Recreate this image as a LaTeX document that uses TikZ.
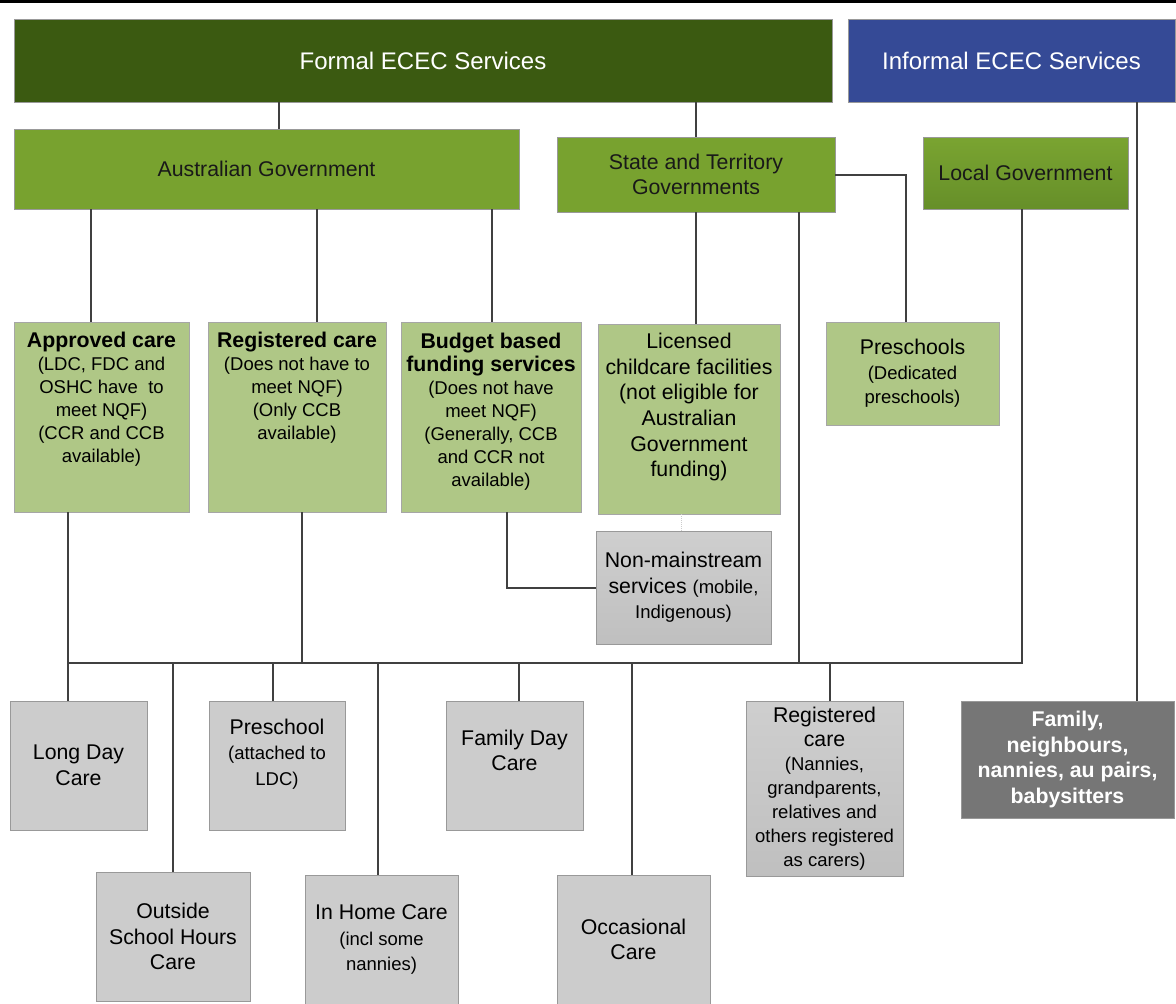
\documentclass[tikz,border=0pt]{standalone}
\usepackage{fontspec}
\setmainfont{Liberation Sans}
\usepackage{tikz}
\definecolor{formalgreen}{HTML}{3B5A11}
\definecolor{informalblue}{HTML}{354A96}
\definecolor{govgreen}{HTML}{78A22F}
\definecolor{localtop}{HTML}{7AA431}
\definecolor{localbottom}{HTML}{668F29}
\definecolor{palegreen}{HTML}{AFC786}
\definecolor{caregrey}{HTML}{CCCCCC}
\definecolor{familygrey}{HTML}{767676}
\definecolor{linkgrey}{HTML}{404040}
\newcommand{\lifttxt}[1]{\rule[-#1pt]{0pt}{#1pt}}
\newcommand{\bigtxt}{\fontsize{24}{29}\selectfont}
\newcommand{\midtxt}{\fontsize{21.3}{25.5}\selectfont}
\newcommand{\smalltxt}{\fontsize{18.5}{23}\selectfont}
\newcommand{\titletxt}[1]{{\bfseries\fontsize{21.3}{23}\selectfont #1}}
\tikzset{
	every node/.style={shape=rectangle,anchor=north west,outer sep=0pt,inner sep=2pt,align=center,line width=0.8pt,draw=black!40,font=\midtxt},
	box-size/.style 2 args={minimum width=#1pt,minimum height=#2pt},
	formal-box/.style={fill=formalgreen,text=white,font=\bigtxt},
	informal-box/.style={fill=informalblue,text=white,font=\bigtxt},
	gov-box/.style={fill=govgreen,text=black!90},
	local-box/.style={top color=localtop,bottom color=localbottom,text=black!90},
	pale-box/.style={fill=palegreen,draw=black!35},
	grey-box/.style={fill=caregrey,draw=black!40},
	shade-box/.style={top color=caregrey!95!white,bottom color=black!25,draw=black!40},
	family-box/.style={fill=familygrey,text=white,font=\bfseries\midtxt},
}
\tikzstyle{link} = [line width=2pt,draw=linkgrey]

\begin{document}
\begin{tikzpicture}[x=1pt,y=-1pt]
\useasboundingbox (0,0) rectangle (1176,1004);
\draw[line width=3pt] (0,1.5) -- (1176,1.5);

% top level
\node[formal-box,box-size={818}{83}] (formal) at (14,19) {Formal ECEC Services};
\node[informal-box,box-size={327}{83}] (informal) at (848,19) {Informal ECEC Services};

% governments
\node[gov-box,box-size={505}{80}] (ausgov) at (14,129) {Australian Government};
\node[gov-box,box-size={278}{75}] (stategov) at (557,137) {State and Territory\\Governments};
\node[local-box,box-size={205}{72}] (localgov) at (923,137) {Local Government};

% funding types
\node[pale-box,box-size={175}{190},font=\smalltxt] (approved) at (14,322) {\titletxt{Approved care}\\(LDC, FDC and\\OSHC have~ to\\meet NQF)\\(CCR and CCB\\available)\lifttxt{39}};
\node[pale-box,box-size={178}{190},font=\smalltxt] (registered) at (208,322) {\titletxt{Registered care}\\(Does not have to\\meet NQF)\\(Only CCB\\available)\lifttxt{62}};
\node[pale-box,box-size={180}{190},font=\smalltxt] (budget) at (401,322) {\titletxt{Budget based}\\\titletxt{funding services}\\(Does not have\\meet NQF)\\(Generally, CCB\\and CCR not\\available)\lifttxt{15}};
\node[pale-box,box-size={182}{190},font=\fontsize{21.3}{25.7}\selectfont] (licensed) at (598,324) {Licensed\\childcare facilities\\(not eligible for\\Australian\\Government\\funding)\lifttxt{28}};
\node[pale-box,box-size={173}{103},font=\fontsize{21.3}{24.5}\selectfont] (preschools) at (826,322) {Preschools\\{\smalltxt (Dedicated}\\{\smalltxt preschools)}};
\node[shade-box,box-size={175}{113}] (nonmain) at (596,531) {Non-mainstream\\services {\smalltxt (mobile,}\\{\smalltxt Indigenous)}};

% services
\node[grey-box,box-size={137}{129}] (longday) at (10,701) {Long Day\\Care};
\node[grey-box,box-size={136}{129}] (preschool) at (209,701) {Preschool\\{\smalltxt (attached to}\\{\smalltxt LDC)}\lifttxt{27}};
\node[grey-box,box-size={137}{129}] (familyday) at (446,701) {Family Day\\Care\lifttxt{30}};
\node[shade-box,box-size={157}{175},font=\fontsize{21.3}{24}\selectfont] (regcare) at (746,701) {Registered\\care\\{\smalltxt (Nannies,}\\{\smalltxt grandparents,}\\{\smalltxt relatives and}\\{\smalltxt others registered}\\{\smalltxt as carers)}};
\node[family-box,box-size={213}{117}] (family) at (961,701) {Family,\\neighbours,\\nannies, au pairs,\\babysitters};
\node[grey-box,box-size={154}{129}] (oshc) at (96,872) {Outside\\School Hours\\Care};
\node[grey-box,box-size={153}{129}] (inhome) at (305,875) {In Home Care\\{\smalltxt (incl some}\\{\smalltxt nannies)}};
\node[grey-box,box-size={153}{129}] (occasional) at (557,875) {Occasional\\Care};

\coordinate (busL) at (68,663);
\coordinate (busR) at (1022,663);

% connectors
\draw[link] (formal.south -| 279,0) -- (ausgov.north -| 279,0);
\draw[link] (formal.south -| 696,0) -- (stategov.north -| 696,0);
\draw[link] (informal.south -| 1137,0) -- (family.north -| 1137,0);
\draw[link] (ausgov.south -| 91,0) -- (approved.north -| 91,0);
\draw[link] (ausgov.south -| 317,0) -- (registered.north -| 317,0);
\draw[link] (ausgov.south -| 492,0) -- (budget.north -| 492,0);
\draw[link] (stategov.south -| 696,0) -- (licensed.north -| 696,0);
\draw[link] (stategov.east) -| (preschools.north -| 906,0);
\draw[link] (stategov.south -| 799,0) -- (busL -| 799,0);
\draw[link] (localgov.south -| busR) -- (busR) -- (busL);
\draw[link] (approved.south -| busL) -- (busL) -- (longday.north -| busL);
\draw[link] (registered.south -| 302,0) -- (busL -| 302,0);
\draw[link] (budget.south -| 507,0) |- (nonmain.west);
\draw[draw=black!20,line width=1pt,densely dotted] (licensed.south -| 681,0) -- (nonmain.north -| 681,0);
\draw[link] (busL -| 173,0) -- (oshc.north -| 173,0);
\draw[link] (busL -| 273,0) -- (preschool.north -| 273,0);
\draw[link] (busL -| 378,0) -- (inhome.north -| 378,0);
\draw[link] (busL -| 519,0) -- (familyday.north -| 519,0);
\draw[link] (busL -| 632,0) -- (occasional.north -| 632,0);
\draw[link] (busL -| 830,0) -- (regcare.north -| 830,0);
\end{tikzpicture}
\end{document}
